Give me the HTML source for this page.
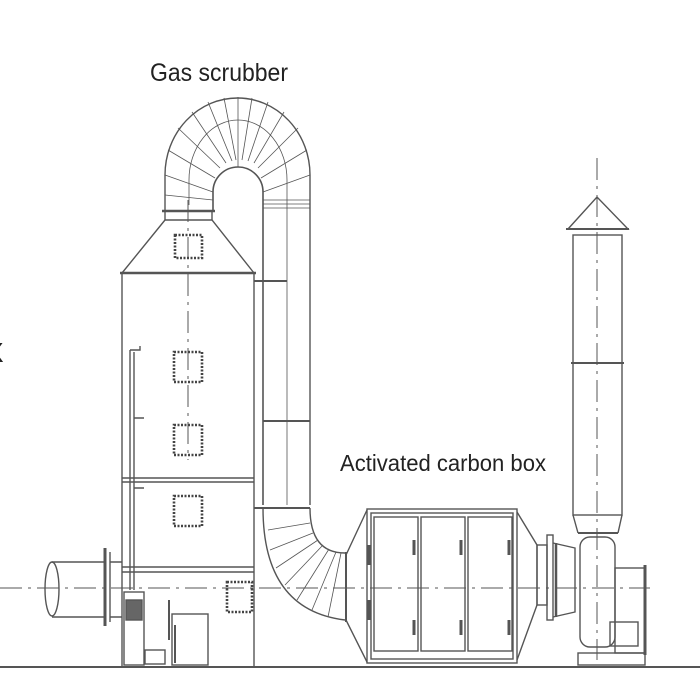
<!DOCTYPE html>
<html><head><meta charset="utf-8"><style>
html,body{margin:0;padding:0;background:#fff;width:700px;height:700px;overflow:hidden}
svg{display:block}
text{font-family:"Liberation Sans",sans-serif;fill:#222}
</style></head><body>
<svg width="700" height="700" viewBox="0 0 700 700" xmlns="http://www.w3.org/2000/svg">
<g fill="none" stroke="#555" stroke-width="1.4">
<line x1="0" y1="667" x2="700" y2="667" stroke-width="2"/>
<line x1="0" y1="588" x2="650" y2="588" stroke-dasharray="22,6,3,6" stroke-width="1"/>
<rect x="122" y="273" width="132" height="394"/>
<line x1="120" y1="273" x2="256" y2="273" stroke-width="2.5"/>
<line x1="122" y1="478" x2="254" y2="478"/><line x1="122" y1="482" x2="254" y2="482"/>
<line x1="122" y1="567" x2="254" y2="567"/><line x1="122" y1="572" x2="254" y2="572"/>
<path d="M122,273 L165,220 L212,220 L254,273"/>
<line x1="162" y1="211" x2="215" y2="211" stroke-width="2.5"/>
<line x1="165" y1="211" x2="165" y2="220"/><line x1="212" y1="211" x2="212" y2="220"/>
<line x1="188" y1="200" x2="188" y2="460" stroke-dasharray="22,6,3,6" stroke-width="1"/>
<g stroke-dasharray="2,1.5" stroke-width="2.6" stroke="#444">
<rect x="175" y="235" width="27" height="23"/>
<rect x="174" y="352" width="28" height="30"/>
<rect x="174" y="425" width="28" height="30"/>
<rect x="174" y="496" width="28" height="30"/>
<rect x="227" y="582" width="25" height="30"/>
</g>
<path d="M165,211 L165,175 A72.5,77 0 0 1 310,175 L310,505"/>
<path d="M213,211 L213,192 A25,25 0 0 1 263,192 L263,505" stroke-width="1.6"/>
<path d="M189,205 L189,180 A49,60 0 0 1 287,180 L287,505" stroke-width="0.8"/>
<g stroke-width="0.8">
<line x1="165" y1="175" x2="213" y2="192"/><line x1="168" y1="150" x2="215" y2="178"/>
<line x1="178" y1="128" x2="220" y2="168"/><line x1="192" y1="112" x2="226" y2="163"/>
<line x1="208" y1="102" x2="232" y2="161"/><line x1="224" y1="98" x2="236" y2="160"/>
<line x1="238" y1="97" x2="238" y2="167"/><line x1="252" y1="98" x2="242" y2="160"/>
<line x1="268" y1="102" x2="248" y2="161"/><line x1="284" y1="112" x2="254" y2="163"/>
<line x1="298" y1="128" x2="258" y2="168"/><line x1="307" y1="150" x2="261" y2="178"/>
<line x1="310" y1="175" x2="263" y2="192"/>
<line x1="165" y1="195" x2="213" y2="200"/>
<line x1="263" y1="200" x2="310" y2="200"/><line x1="263" y1="204" x2="310" y2="204"/><line x1="263" y1="208" x2="310" y2="208"/>
</g>
<line x1="254" y1="281" x2="287" y2="281" stroke-width="2"/>
<line x1="263" y1="421" x2="310" y2="421" stroke-width="2"/>
<line x1="254" y1="508" x2="310" y2="508" stroke-width="2"/>
<path d="M263,508 Q263,610 345,620"/>
<path d="M310,508 Q310,553 345,553"/>
<g stroke-width="0.8">
<line x1="268" y1="530" x2="310" y2="523"/><line x1="270" y1="550" x2="313" y2="533"/>
<line x1="276" y1="568" x2="318" y2="540"/><line x1="285" y1="585" x2="323" y2="545"/>
<line x1="297" y1="600" x2="329" y2="549"/><line x1="312" y1="610" x2="336" y2="552"/>
<line x1="328" y1="617" x2="341" y2="553"/>
</g>
<line x1="346" y1="552" x2="346" y2="622" stroke-width="2"/>
<path d="M346,555 L367,510 M346,620 L367,662"/>
<rect x="367" y="509" width="150" height="154"/>
<rect x="371" y="513" width="142" height="146"/>
<rect x="374" y="517" width="44" height="134"/>
<rect x="421" y="517" width="44" height="134"/>
<rect x="468" y="517" width="44" height="134"/>
<path d="M517,512 L537,545 L537,605 L517,660"/>
<g stroke-width="3"><line x1="414" y1="540" x2="414" y2="555"/><line x1="414" y1="620" x2="414" y2="635"/>
<line x1="461" y1="540" x2="461" y2="555"/><line x1="461" y1="620" x2="461" y2="635"/>
<line x1="509" y1="540" x2="509" y2="555"/><line x1="509" y1="620" x2="509" y2="635"/>
<line x1="369" y1="545" x2="369" y2="565"/><line x1="369" y1="600" x2="369" y2="620"/></g>
<rect x="537" y="545" width="10" height="60"/>
<rect x="547" y="535" width="6" height="85"/>
<path d="M553,543 L575,548 L575,612 L553,617"/>
<line x1="556" y1="543" x2="556" y2="617" stroke-width="2.5"/>
<rect x="580" y="537" width="35" height="110" rx="10"/>
<line x1="578" y1="533" x2="618" y2="533" stroke-width="2"/>
<path d="M578,533 L573,515 M618,533 L622,515"/>
<rect x="615" y="568" width="30" height="85"/>
<rect x="610" y="622" width="28" height="24"/>
<line x1="645" y1="565" x2="645" y2="655" stroke-width="3"/>
<rect x="578" y="653" width="67" height="12"/>
<rect x="573" y="235" width="49" height="280"/>
<line x1="571" y1="363" x2="624" y2="363" stroke-width="2"/>
<path d="M568,229 L597,197 L628,229 Z"/>
<line x1="566" y1="229" x2="629" y2="229" stroke-width="2"/>
<line x1="597" y1="158" x2="597" y2="660" stroke-dasharray="22,6,3,6" stroke-width="1"/>
<path d="M52,562 L105,562 M52,617 L105,617"/>
<ellipse cx="52" cy="589" rx="7" ry="27"/>
<line x1="105" y1="548" x2="105" y2="626" stroke-width="3"/>
<line x1="110" y1="552" x2="110" y2="622"/>
<path d="M110,562 L122,562 M110,617 L122,617"/>
<path d="M130,350 L130,590 M134,352 L134,590"/>
<path d="M130,350 L140,350 L140,346 M134,418 L144,418 M134,488 L144,488"/>
<rect x="124" y="592" width="20" height="73"/>
<rect x="126" y="600" width="16" height="20" fill="#666"/>
<rect x="145" y="650" width="20" height="14"/>
<rect x="172" y="614" width="36" height="51"/>
<line x1="175" y1="625" x2="175" y2="663" stroke-width="2"/>
<line x1="169" y1="600" x2="169" y2="640" stroke-width="2"/>
</g>
<text x="150" y="81" font-size="25" textLength="138" lengthAdjust="spacingAndGlyphs">Gas scrubber</text>
<text x="340" y="471" font-size="23" textLength="206" lengthAdjust="spacingAndGlyphs">Activated carbon box</text>
<text x="-15" y="362" font-size="28" fill="#333">X</text>
</svg>
</body></html>
